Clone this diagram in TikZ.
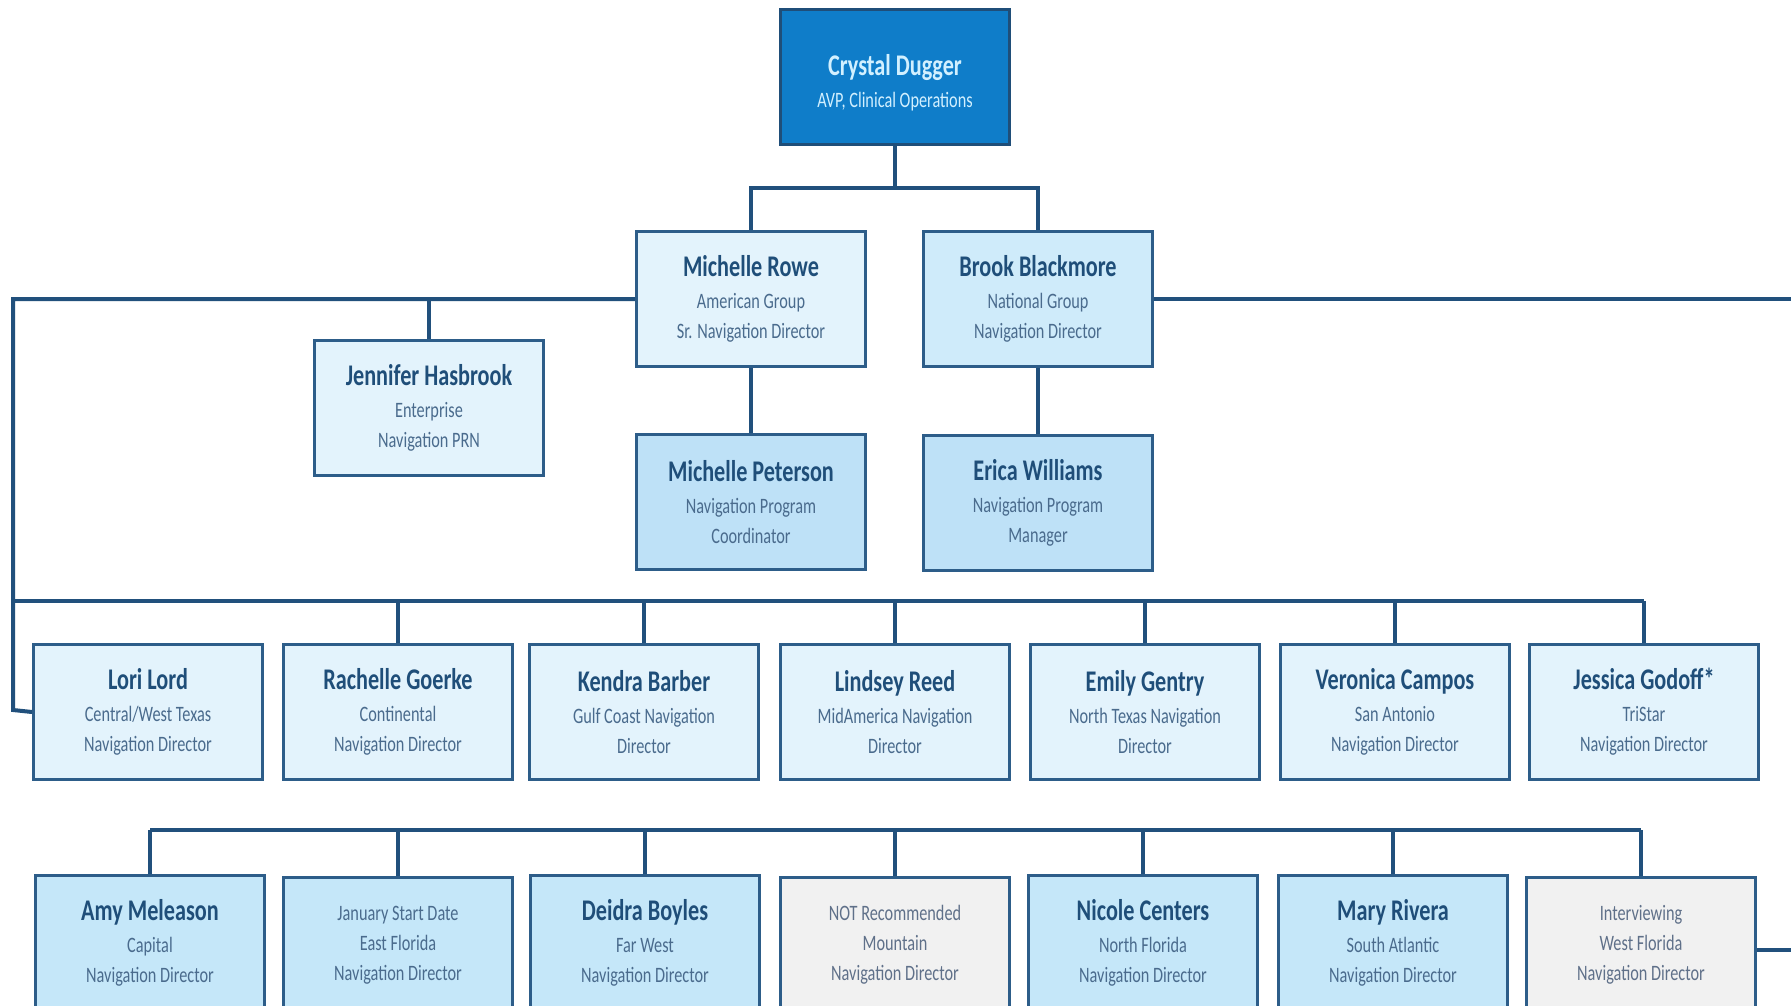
\documentclass[tikz,border=0pt]{standalone}
\usepackage{fontspec}
\setmainfont{Carlito}[FakeStretch=0.74]

\definecolor{wirecol}{HTML}{21507C}
\definecolor{boxline}{HTML}{2D5D89}
\definecolor{namecol}{HTML}{1F4E79}
\definecolor{subcol}{HTML}{4A6B8D}
\definecolor{graytxt}{HTML}{5F7089}
\definecolor{topfill}{HTML}{0F7DC9}
\definecolor{toptxt}{HTML}{D2F0FF}
\definecolor{paleA}{HTML}{E3F3FC}
\definecolor{paleB}{HTML}{CFEBFA}
\definecolor{midA}{HTML}{BEE1F7}
\definecolor{midB}{HTML}{C5E7F9}
\definecolor{grayfill}{HTML}{F1F1F1}

\newcommand\nm[1]{{\bfseries\fontsize{30}{34}\selectfont\color{namecol}#1}}
\newcommand\topnm[1]{{\bfseries\fontsize{30}{34}\selectfont\rule{0pt}{33pt}#1}}

\tikzset{
  x=1pt, y=-1pt,
  box/.style={draw=boxline, line width=3pt, minimum width=229pt,
    minimum height=135pt, align=center, inner sep=0pt,
    font=\fontsize{22}{30}\selectfont, text=subcol},
  topbox/.style={box, fill=topfill, draw=namecol, text=toptxt},
  paleA/.style={box, fill=paleA},
  paleB/.style={box, fill=paleB},
  midA/.style={box, fill=midA},
  midB/.style={box, fill=midB},
  vacant/.style={box, fill=grayfill, text=graytxt},
  wire/.style={draw=wirecol, line width=4pt, line join=miter},
}

\begin{document}
\begin{tikzpicture}
\path[use as bounding box] (0,0) rectangle (1791,1006);
\clip (0,0) rectangle (1791,1006);
\fill[white] (0,0) rectangle (1791,1006);

% top of the chart
\node[topbox] (crystal) at (895,77) {\topnm{Crystal Dugger}\\[2pt]AVP, Clinical Operations};

% group directors
\node[paleA] (rowe)  at (751,299) {\nm{Michelle Rowe}\\[2pt]American Group\\Sr. Navigation Director};
\node[paleB] (brook) at (1038,299) {\nm{Brook Blackmore}\\[2pt]National Group\\Navigation Director};

\node[paleA] (jennifer) at (429,408) {\nm{Jennifer Hasbrook}\\[2pt]Enterprise\\Navigation PRN};

\node[midA] (peterson) at (751,502) {\nm{Michelle Peterson}\\[2pt]Navigation Program\\Coordinator};
\node[midA] (erica)    at (1038,503) {\nm{Erica Williams}\\[2pt]Navigation Program\\Manager};

% regional directors, first row
\node[paleA] (lori)     at (148,712)  {\nm{Lori Lord}\\[2pt]Central/West Texas\\Navigation Director};
\node[paleA] (rachelle) at (398,712)  {\nm{Rachelle Goerke}\\[2pt]Continental\\Navigation Director};
\node[paleA] (kendra)   at (644,712)  {\nm{Kendra Barber}\\[2pt]Gulf Coast Navigation\\Director};
\node[paleA] (lindsey)  at (895,712)  {\nm{Lindsey Reed}\\[2pt]MidAmerica Navigation\\Director};
\node[paleA] (emily)    at (1145,712) {\nm{Emily Gentry}\\[2pt]North Texas Navigation\\Director};
\node[paleA] (veronica) at (1395,712) {\nm{Veronica Campos}\\[2pt]San Antonio\\Navigation Director};
\node[paleA] (jessica)  at (1644,712) {\nm{Jessica Godoff*}\\[2pt]TriStar\\Navigation Director};

% regional directors, second row
\node[midB]   (amy)     at (150,943)  {\nm{Amy Meleason}\\[2pt]Capital\\Navigation Director};
\node[midB]   (eastfl)  at (398,945)  {January Start Date\\East Florida\\Navigation Director};
\node[midB]   (deidra)  at (645,943)  {\nm{Deidra Boyles}\\[2pt]Far West\\Navigation Director};
\node[vacant] (mountain) at (895,945) {NOT Recommended\\Mountain\\Navigation Director};
\node[midB]   (nicole)  at (1143,943) {\nm{Nicole Centers}\\[2pt]North Florida\\Navigation Director};
\node[midB]   (mary)    at (1393,943) {\nm{Mary Rivera}\\[2pt]South Atlantic\\Navigation Director};
\node[vacant] (westfl)  at (1641,945) {Interviewing\\West Florida\\Navigation Director};

% helper points for the connector bars
\coordinate (topbar)  at (0,188);
\coordinate (spine)   at (13,710);
\coordinate (bus3)    at (13,601);
\coordinate (bus4)    at (0,830);
\coordinate (redge1)  at (1791,299);
\coordinate (redge2)  at (1791,950);

% connectors
\draw[wire] (crystal.south) -- (crystal.south |- topbar);
\draw[wire] (rowe.north) |- (brook.north |- topbar) -- (brook.north);
\draw[wire] (rowe.south) -- (peterson.north);
\draw[wire] (brook.south) -- (erica.north);
\draw[wire] (brook.east) -- (redge1);

\draw[wire] (rowe.west) -| (spine) -- (lori.west);
\draw[wire] (jennifer.north) -- (jennifer.north |- rowe.west);

\draw[wire] (bus3) -- (bus3 -| jessica.north);
\foreach \n in {rachelle,kendra,lindsey,emily,veronica,jessica}
  \draw[wire] (\n.north) -- (\n.north |- bus3);

\draw[wire] (amy.north |- bus4) -- (westfl.north |- bus4);
\foreach \n in {amy,eastfl,deidra,mountain,nicole,mary,westfl}
  \draw[wire] (\n.north) -- (\n.north |- bus4);
\draw[wire] (westfl.east |- redge2) -- (redge2);
\end{tikzpicture}
\end{document}
